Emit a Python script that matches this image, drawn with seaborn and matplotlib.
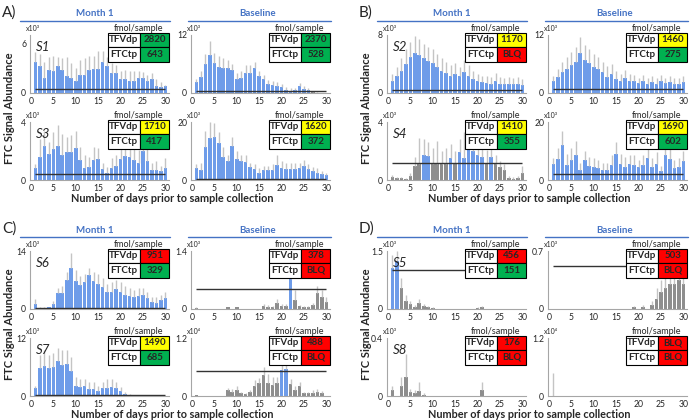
import numpy as np
import pandas as pd
import matplotlib
matplotlib.use("Agg")
import matplotlib.pyplot as plt
import seaborn as sns

days = list(range(1, 31))

# FTC signal per day (bar) and top of error bar
s1_m1 = [3.8, 3.2, 1.8, 2.8, 2.7, 3.3, 2.8, 2.1, 1.8, 1.5, 2.2, 2.2, 2.8, 2.9, 2.9, 3.8, 3.2, 2.4, 2.4, 1.7, 1.7, 1.5, 1.5, 1.8, 1.8, 1.5, 1.7, 0.9, 0.7, 0.8]
s1_m1_hi = [5.0, 4.7, 3.8, 4.3, 4.5, 4.3, 4.2, 4.3, 3.6, 3.0, 4.0, 4.2, 4.5, 4.5, 5.1, 5.1, 4.3, 3.6, 3.4, 2.6, 2.8, 2.7, 2.6, 2.7, 2.5, 2.2, 2.4, 1.7, 1.3, 1.0]
s1_bl = [2.2, 3.4, 6.1, 7.8, 6.3, 5.4, 5.1, 5.1, 4.7, 2.9, 3.2, 4.1, 4.1, 5.1, 3.6, 2.8, 1.9, 1.7, 1.4, 1.2, 0.7, 0.5, 0.7, 1.4, 0.9, 0.7, 0.2, 0.1, 0.0, 0.0]
s1_bl_hi = [2.9, 4.5, 8.0, 10.8, 8.3, 7.6, 7.3, 6.8, 6.0, 4.2, 4.6, 5.8, 5.8, 6.5, 4.5, 3.7, 2.7, 2.4, 2.3, 1.8, 1.2, 1.0, 1.1, 2.1, 1.4, 1.0, 0.4, 0.2, 0.0, 0.0]

s3_m1 = [0.8, 1.57, 2.32, 1.77, 2.17, 2.32, 1.72, 1.9, 1.94, 2.2, 1.4, 0.84, 0.88, 1.35, 1.44, 0.73, 0.46, 0.84, 1.0, 1.44, 1.68, 1.57, 1.4, 1.2, 2.0, 1.28, 0.66, 0.66, 0.62, 0.8]
s3_m1_hi = [1.1, 2.8, 3.4, 2.6, 3.3, 3.8, 3.2, 3.0, 3.1, 3.4, 2.3, 1.7, 1.6, 2.3, 2.2, 1.2, 0.9, 1.5, 1.7, 2.3, 2.6, 2.9, 2.8, 2.1, 2.8, 2.2, 1.2, 1.3, 1.0, 1.5]
s3_bl = [4.2, 3.6, 11.4, 14.4, 15.0, 12.6, 7.9, 6.5, 11.7, 7.1, 6.5, 6.1, 4.5, 3.9, 2.5, 3.3, 3.3, 3.6, 5.1, 4.3, 3.7, 3.7, 3.9, 4.2, 4.8, 3.7, 3.1, 2.5, 1.9, 1.8]
s3_bl_hi = [5.5, 6.0, 17.0, 20.0, 19.5, 16.5, 11.5, 8.5, 15.0, 10.0, 8.5, 8.5, 6.0, 5.5, 4.2, 5.0, 5.0, 5.5, 8.5, 6.5, 6.0, 6.0, 6.0, 6.0, 7.0, 5.5, 4.5, 4.0, 3.0, 2.5]

s2_m1 = [1.6, 2.3, 3.1, 4.0, 4.9, 5.5, 5.2, 4.8, 4.4, 4.1, 3.6, 3.1, 2.8, 2.4, 2.6, 2.3, 2.9, 2.4, 1.9, 1.6, 1.5, 1.4, 1.3, 1.6, 1.3, 1.2, 1.3, 1.2, 1.3, 1.1]
s2_m1_hi = [2.6, 3.6, 4.8, 6.0, 7.0, 7.8, 7.4, 6.8, 6.4, 6.0, 5.4, 4.8, 4.3, 3.8, 4.2, 3.6, 4.6, 3.8, 3.0, 2.6, 2.4, 2.3, 2.2, 2.8, 2.2, 2.0, 2.2, 2.0, 2.2, 1.9]
s2_bl = [2.5, 3.4, 4.3, 5.0, 5.8, 6.4, 8.2, 6.9, 6.3, 5.4, 4.9, 4.3, 3.4, 3.9, 2.9, 2.4, 3.0, 2.5, 2.4, 2.0, 2.4, 1.9, 2.3, 1.9, 2.4, 2.0, 2.3, 1.9, 1.9, 2.3]
s2_bl_hi = [3.6, 5.0, 6.5, 7.5, 8.5, 9.5, 11.5, 10.0, 9.0, 8.0, 7.5, 6.5, 5.5, 6.0, 4.5, 4.0, 4.8, 4.0, 3.8, 3.2, 3.8, 3.0, 3.6, 3.0, 3.8, 3.2, 3.6, 3.0, 3.0, 3.6]

s4_m1 = [0.18, 0.11, 0.11, 0.07, 0.27, 1.0, 1.1, 1.7, 1.67, 1.07, 1.12, 1.1, 1.1, 1.55, 1.15, 1.9, 1.5, 2.2, 2.0, 1.7, 1.6, 1.15, 1.6, 1.1, 0.9, 0.7, 0.15, 0.1, 0.15, 0.5]
s4_m1_hi = [0.35, 0.2, 0.2, 0.15, 0.5, 1.6, 2.9, 2.8, 2.6, 2.2, 2.7, 2.0, 2.2, 2.5, 2.0, 2.8, 3.3, 3.6, 3.0, 2.7, 2.5, 2.1, 2.2, 1.7, 1.3, 1.1, 0.3, 0.2, 0.3, 1.0]
s4_bl = [5.5, 7.3, 12.1, 5.1, 6.9, 8.5, 3.6, 6.9, 4.8, 4.5, 4.0, 3.4, 3.4, 5.2, 9.1, 5.5, 4.5, 5.5, 5.2, 4.5, 5.2, 7.5, 4.5, 5.5, 3.0, 8.5, 7.3, 4.2, 4.5, 6.4]
s4_bl_hi = [7.5, 11.0, 17.0, 9.0, 11.0, 13.5, 6.0, 10.0, 8.0, 7.5, 7.0, 6.0, 6.0, 8.5, 13.0, 9.0, 8.0, 8.5, 8.5, 7.0, 8.5, 11.0, 7.5, 9.5, 5.0, 12.0, 11.0, 7.0, 7.5, 10.0]

s6_m1 = [1.25, 0.25, 0.3, 0.4, 1.25, 3.9, 3.9, 6.9, 10.0, 6.8, 5.8, 6.5, 8.1, 6.7, 6.0, 5.25, 4.2, 4.0, 4.75, 4.2, 3.5, 3.2, 2.9, 3.1, 3.3, 2.7, 1.8, 1.5, 2.1, 2.7]
s6_m1_hi = [2.5, 0.5, 0.5, 0.6, 2.0, 5.0, 5.5, 9.0, 13.5, 9.5, 8.0, 8.5, 10.0, 9.0, 8.5, 7.5, 6.0, 6.5, 7.0, 6.5, 5.5, 5.0, 4.5, 5.0, 5.0, 4.0, 3.0, 3.0, 3.5, 4.0]
s6_bl = [0.025, 0, 0, 0, 0, 0, 0, 0.04, 0, 0.04, 0, 0, 0, 0, 0, 0.065, 0.04, 0.05, 0.14, 0.08, 0.08, 0.72, 0.21, 0.065, 0.05, 0.05, 0.1, 0.38, 0.3, 0.16]
s6_bl_hi = [0.04, 0, 0, 0, 0, 0, 0, 0.06, 0, 0.06, 0, 0, 0, 0, 0, 0.12, 0.1, 0.08, 0.25, 0.12, 0.12, 0.9, 0.45, 0.1, 0.08, 0.08, 0.15, 0.55, 0.45, 0.3]

s7_m1 = [1.6, 5.8, 6.25, 5.8, 5.9, 7.3, 6.5, 6.6, 5.1, 2.15, 1.8, 2.15, 1.45, 1.45, 1.05, 1.6, 1.6, 1.95, 1.6, 1.05, 0.4, 0.2, 0.15, 0.1, 0.05, 0, 0, 0, 0, 0]
s7_m1_hi = [2.0, 8.5, 9.5, 8.5, 9.0, 10.0, 9.5, 9.5, 8.0, 4.0, 3.5, 3.5, 2.8, 2.8, 2.0, 3.0, 3.5, 3.5, 2.8, 1.8, 0.8, 0.4, 0.3, 0.2, 0.1, 0, 0, 0, 0, 0]
s7_bl = [0.015, 0, 0, 0, 0, 0, 0, 0.12, 0.09, 0.13, 0.055, 0.04, 0.08, 0.21, 0.26, 0.43, 0.27, 0.22, 0.26, 0.53, 0.56, 0.25, 0.13, 0.21, 0.06, 0.06, 0.055, 0.09, 0.06, 0]
s7_bl_hi = [0.03, 0, 0, 0, 0, 0, 0, 0.17, 0.14, 0.2, 0.08, 0.06, 0.12, 0.33, 0.38, 0.6, 0.45, 0.4, 0.4, 0.65, 0.66, 0.35, 0.2, 0.3, 0.08, 0.08, 0.12, 0.15, 0.1, 0]

s5_m1 = [1.05, 1.25, 0.55, 0.2, 0.12, 0.05, 0.15, 0.08, 0.05, 0.03, 0, 0, 0, 0, 0, 0, 0, 0, 0, 0.03, 0.05, 0, 0, 0, 0, 0, 0, 0, 0, 0]
s5_m1_hi = [1.4, 1.5, 0.8, 0.35, 0.2, 0.1, 0.25, 0.12, 0.08, 0.05, 0, 0, 0, 0, 0, 0, 0, 0, 0, 0.05, 0.08, 0, 0, 0, 0, 0, 0, 0, 0, 0]
s5_bl = [0, 0, 0, 0, 0, 0, 0, 0, 0, 0, 0, 0, 0, 0, 0, 0, 0, 0, 0.02, 0, 0.03, 0, 0.05, 0.12, 0.2, 0.25, 0.3, 0.3, 0.35, 0.3]
s5_bl_hi = [0, 0, 0, 0, 0, 0, 0, 0, 0, 0, 0, 0, 0, 0, 0, 0, 0, 0, 0.04, 0, 0.05, 0, 0.1, 0.25, 0.35, 0.4, 0.45, 0.45, 0.5, 0.45]

s8_m1 = [0.04, 0, 0.066, 0.13, 0.026, 0.018, 0.037, 0.01, 0, 0, 0, 0, 0, 0, 0, 0, 0, 0, 0, 0, 0.044, 0, 0, 0, 0, 0, 0, 0, 0, 0]
s8_m1_hi = [0.07, 0, 0.13, 0.29, 0.05, 0.04, 0.1, 0.02, 0, 0, 0, 0, 0, 0, 0, 0, 0, 0, 0, 0, 0.1, 0, 0, 0, 0, 0, 0, 0, 0, 0]
s8_bl = [0.01] + [0] * 29
s8_bl_hi = [0.48] + [0] * 29

# fmol/sample tables (month 1, baseline)
tfv_vals = {'S1': ('2820', '2370'), 'S3': ('1710', '1620'), 'S2': ('1170', '1460'), 'S4': ('1410', '1690'),
            'S6': ('951', '378'), 'S7': ('1490', '488'), 'S5': ('456', '503'), 'S8': ('176', 'BLQ')}
ftc_vals = {'S1': ('643', '528'), 'S3': ('417', '372'), 'S2': ('BLQ', '275'), 'S4': ('355', '602'),
            'S6': ('329', 'BLQ'), 'S7': ('685', 'BLQ'), 'S5': ('151', 'BLQ'), 'S8': ('BLQ', 'BLQ')}

# group, row, subject, month1 (vals, hi, lloq, ytop, ytick, unit), baseline (...)
panels = [
    ('A', 0, 'S1', (s1_m1, s1_m1_hi, 0.5, 7.0, 6, 'x10³'), (s1_bl, s1_bl_hi, 0.45, 12, 12, 'x10³')),
    ('A', 1, 'S3', (s3_m1, s3_m1_hi, 0.44, 4, 4, 'x10³'), (s3_bl, s3_bl_hi, 0.35, 20, 20, 'x10³')),
    ('B', 0, 'S2', (s2_m1, s2_m1_hi, 0.4, 8, 8, 'x10³'), (s2_bl, s2_bl_hi, 0.8, 12, 12, 'x10³')),
    ('B', 1, 'S4', (s4_m1, s4_m1_hi, 1.18, 4, 4, 'x10³'), (s4_bl, s4_bl_hi, 2.2, 20, 20, 'x10³')),
    ('C', 0, 'S6', (s6_m1, s6_m1_hi, 0.2, 14, 14, 'x10³'), (s6_bl, s6_bl_hi, 0.48, 1.4, 1.4, 'x10³')),
    ('C', 1, 'S7', (s7_m1, s7_m1_hi, 0.25, 12, 12, 'x10³'), (s7_bl, s7_bl_hi, 0.51, 1.2, 1.2, 'x10⁴')),
    ('D', 0, 'S5', (s5_m1, s5_m1_hi, 1.0, 1.5, 1.5, 'x10³'), (s5_bl, s5_bl_hi, 0.52, 0.7, 0.7, 'x10³')),
    ('D', 1, 'S8', (s8_m1, s8_m1_hi, np.nan, 0.4, 0.4, 'x10³'), (s8_bl, s8_bl_hi, np.nan, 1.2, 1.2, 'x10⁴')),
]

BLUE = '#6E9CE9'
GRAY = '#8E8E8E'
HEAD = '#4472C4'
W, H = 696, 420

sns.set_style('white')
plt.rcParams['font.family'] = ['Lato', 'DejaVu Sans']

fig = plt.figure(figsize=(W / 100, H / 100), dpi=100)
offsets = {'A': (0, 0), 'B': (357, 0), 'C': (0, 216), 'D': (357, 216)}


def tfv_color(v):
    if v == 'BLQ':
        return '#FF0000'
    v = float(v)
    return '#00B050' if v >= 1850 else ('#FFFF00' if v >= 1000 else '#FF0000')


def ftc_color(v):
    return '#FF0000' if v == 'BLQ' else '#00B050'


def draw(ax, spec, subject, tfv, ftc):
    vals, hi, lloq, ytop, ytick, unit = spec
    df = pd.DataFrame({'day': days, 'signal': vals})
    sns.barplot(data=df, x='day', y='signal', native_scale=True, width=0.8,
                color=BLUE, saturation=1, errorbar=None, ax=ax)
    # bars below the quantification line are grey
    for patch, v in zip(ax.patches, vals):
        if not v > lloq:
            patch.set_facecolor(GRAY)
        patch.set_edgecolor('none')
    ax.vlines(days, vals, hi, color='#C4C4C4', lw=1, zorder=1)
    if not np.isnan(lloq):
        ax.hlines(lloq, 1, 30, color='#333333', lw=1, zorder=4)
    ax.set_xlim(-0.2, 30.8)
    ax.set_ylim(0, ytop)
    ax.set_xticks(range(0, 31, 5))
    ax.set_xticklabels([str(t) for t in range(0, 31, 5)])
    ax.set_yticks([0, ytick])
    ax.set_yticklabels(['0', f'{ytick:g}'])
    ax.set_xlabel('')
    ax.set_ylabel('')
    ax.tick_params(axis='both', labelsize=6.2, pad=0.8, length=2, color='#A6A6A6')
    sns.despine(ax=ax)
    for s in ('left', 'bottom'):
        ax.spines[s].set_color('#A6A6A6')
        ax.spines[s].set_linewidth(0.8)
    ax.text(-0.03, 1.12, unit, transform=ax.transAxes, fontsize=5, ha='left', va='center')
    if subject:
        ax.text(0.04, 0.8, subject, transform=ax.transAxes, fontsize=9.5, style='italic', va='center')
    ax.text(0.78, 1.12, 'fmol/sample', transform=ax.transAxes, fontsize=6.5, ha='center', va='center')
    tab = ax.table(cellText=[['TFVdp', tfv], ['FTCtp', ftc]],
                   cellColours=[['white', tfv_color(tfv)], ['white', ftc_color(ftc)]],
                   colWidths=[0.53, 0.47], cellLoc='center', bbox=[0.56, 0.54, 0.44, 0.5])
    tab.auto_set_font_size(False)
    for cell in tab.get_celld().values():
        cell.set_linewidth(0.8)
        cell.PAD = 0.02
        cell.get_text().set_fontsize(7)
        cell.get_text().set_fontweight('bold')
    tab.set_zorder(6)


for group, row, subject, m1, bl in panels:
    dx, dy = offsets[group]
    for col, spec in enumerate([m1, bl]):
        left = 30 + col * 161 + dx
        top = 35 + row * 87 + dy
        ax = fig.add_axes([left / W, 1 - (top + 58) / H, 139 / W, 58 / H])
        draw(ax, spec, subject if col == 0 else None,
             tfv_vals[subject][col], ftc_vals[subject][col])

for group, (dx, dy) in offsets.items():
    fig.text((dx + 2) / W, 1 - (dy + 13) / H, group + ')', fontsize=11, va='center')
    fig.text((dx + 95) / W, 1 - (dy + 14) / H, 'Month 1', fontsize=7, color=HEAD,
             fontweight='bold', ha='center', va='center')
    fig.text((dx + 258) / W, 1 - (dy + 14) / H, 'Baseline', fontsize=7, color=HEAD,
             fontweight='bold', ha='center', va='center')
    for x0, x1 in [(20, 170), (188, 331)]:
        fig.add_artist(plt.Line2D([(dx + x0) / W, (dx + x1) / W],
                                  [1 - (dy + 21) / H, 1 - (dy + 21) / H], color=HEAD, lw=1))
    fig.text((dx + 10) / W, 1 - (dy + 108) / H, 'FTC Signal Abundance', rotation=90,
             fontsize=8, fontweight='bold', ha='center', va='center')
    fig.text((dx + 172) / W, 1 - (dy + 198.5) / H, 'Number of days prior to sample collection',
             fontsize=7.8, fontweight='bold', ha='center', va='center')

fig.savefig('out.png', dpi=100)
